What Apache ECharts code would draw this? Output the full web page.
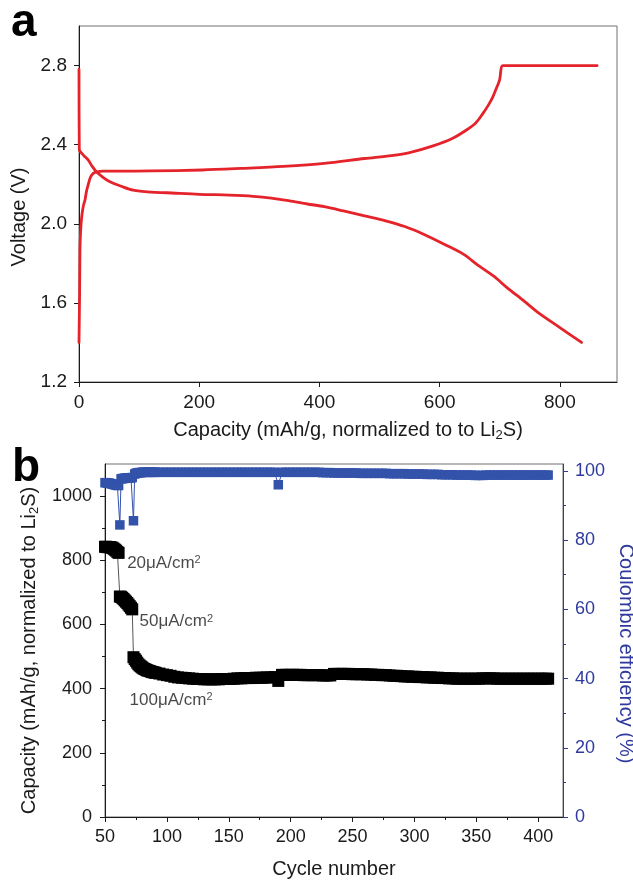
<!DOCTYPE html>
<html>
<head>
<meta charset="utf-8">
<script src="https://cdn.jsdelivr.net/npm/echarts@6/dist/echarts.min.js"></script>
<style>
html,body{margin:0;padding:0;background:#ffffff;}
#chart{width:633px;height:882px;}
</style>
</head>
<body>
<div id="chart"></div>
<script>
// ---------- Panel a: voltage profiles ----------
const chargeCap = [0, 1, 1.6, 2.5, 4, 6, 8, 10, 12.5, 15.5, 19, 23.6, 30, 40, 70, 120, 205, 270, 340, 408, 475, 520, 550, 589, 620, 644, 660, 672, 681, 688.5, 695, 699.6, 705, 720, 862];
const chargeV   = [1.40, 1.65, 1.87, 1.95, 2.02, 2.07, 2.10, 2.12, 2.165, 2.20, 2.235, 2.255, 2.263, 2.266, 2.266, 2.267, 2.272, 2.28, 2.29, 2.305, 2.33, 2.345, 2.36, 2.394, 2.43, 2.473, 2.51, 2.558, 2.60, 2.642, 2.69, 2.726, 2.80, 2.80, 2.80];

const dischargeCap = [0, 0.5, 8, 15.5, 22, 29, 40, 51.5, 70, 90, 120, 146, 200, 250, 290, 320, 350, 380, 408, 440, 475, 510, 542, 575, 610, 640, 664, 690, 711, 740, 765, 800, 836];
const dischargeV   = [2.78, 2.375, 2.345, 2.322, 2.29, 2.263, 2.235, 2.212, 2.19, 2.17, 2.16, 2.157, 2.149, 2.145, 2.139, 2.13, 2.116, 2.10, 2.087, 2.065, 2.04, 2.015, 1.986, 1.945, 1.893, 1.845, 1.79, 1.735, 1.68, 1.61, 1.548, 1.475, 1.40];

const voltageTicks  = [1.2, 1.6, 2.0, 2.4, 2.8];
const capacityTicks = [0, 200, 400, 600, 800];

// ---------- Panel b: cycling ----------
const cycles = [
  50,51,52,53,54,55,56,57,58,59,60,61,
  62,63,64,65,66,67,68,69,70,71,72,
  73,74,75,76,77,78,79,80,81,82,83,84,85,86,87,88,89,90,
  91,94,97,100,103,106,109,112,115,118,121,124,127,130,133,136,139,142,145,148,
  151,154,157,160,163,166,169,172,175,178,181,184,187,190,
  193,196,199,202,205,208,211,214,217,220,223,226,229,232,235,238,241,244,247,250,
  253,256,259,262,265,268,271,274,277,280,283,286,289,292,295,298,301,304,307,310,
  313,316,319,322,325,328,331,334,337,340,343,346,349,352,355,358,361,364,367,370,
  373,376,379,382,385,388,391,394,397,400,403,406,408
];
const capacityValues = [
  842,842,841,841,841,840,839,836,833,830,826,823,
  687,686,683,679,675,671,667,662,657,652,647,
  498,492,487,481,476,472,469,466,463,461,459,457,456,455,453,452,451,450,
  449,447,444,442,440,437,435,434,433,432,431,430,430,429,429,429,429,429,430,430,
  430,431,432,432,433,433,433,434,434,434,435,435,436,424,
  443,443,443,443,443,443,442,442,442,442,442,441,441,441,446,446,446,446,446,445,
  445,445,445,444,444,443,443,442,442,441,440,440,439,438,438,437,437,436,436,435,
  435,434,434,433,433,432,432,431,431,431,431,431,431,431,432,432,432,432,431,431,
  431,431,431,431,431,431,431,431,431,431,431,431,431
];
const efficiencyValues = [
  96.6,96.6,96.5,96.5,96.4,96.3,96.2,96.1,96.0,95.9,95.8,95.8,
  84.4,97.7,97.8,97.8,97.9,97.9,97.9,98.0,98.0,98.0,98.1,
  85.6,99.1,99.3,99.4,99.5,99.5,99.5,99.6,99.6,99.6,99.6,99.6,99.6,99.6,99.6,99.6,99.6,99.6,
  99.6,99.6,99.6,99.6,99.6,99.6,99.6,99.6,99.6,99.6,99.6,99.6,99.6,99.6,99.6,99.6,99.6,99.6,99.6,99.6,
  99.6,99.6,99.6,99.6,99.6,99.6,99.6,99.6,99.6,99.6,99.6,99.6,99.6,96.0,
  99.6,99.6,99.6,99.6,99.6,99.6,99.6,99.6,99.6,99.6,99.6,99.5,99.5,99.5,99.4,99.4,99.4,99.4,99.4,99.4,
  99.4,99.3,99.3,99.3,99.3,99.3,99.3,99.3,99.3,99.2,99.2,99.2,99.2,99.2,99.1,99.1,99.1,99.1,99.1,99.0,
  99.0,99.0,99.0,98.9,98.9,98.9,98.9,98.8,98.8,98.8,98.8,98.8,98.7,98.7,98.7,98.8,98.8,98.8,98.8,98.8,
  98.8,98.8,98.8,98.8,98.8,98.8,98.8,98.8,98.8,98.8,98.8,98.8,98.8
];
const cycleTicks      = [50, 100, 150, 200, 250, 300, 350, 400];
const capacityBTicks  = [0, 200, 400, 600, 800, 1000];
const efficiencyTicks = [0, 20, 40, 60, 80, 100];

const annotationCycles = [67.5, 77.5, 69.4];
const annotationValues = [792, 609, 364];
const annotationTexts  = ['20μA/cm{sup|2}', '50μA/cm{sup|2}', '100μA/cm{sup|2}'];

// ---------- styling ----------
const FONT = '"Liberation Sans", Arial, Helvetica, sans-serif';
const INK = '#1a1a1a';
const RED = '#e4232b';
const BLUE_AXIS = '#2f3a9e';
const BLUE_DATA = '#3352aa';
const BORDER = '#707070';

function pairs(xs, ys) { return xs.map((x, i) => [x, ys[i]]); }

const chart = echarts.init(document.getElementById('chart'), null, {renderer: 'canvas'});

const subRich = {sub: {fontSize: 13, verticalAlign: 'top', padding: [10, 0, 0, 0], fontFamily: FONT}};
const supRich = {sup: {fontSize: 11, verticalAlign: 'top', lineHeight: 8, fontFamily: FONT}};

function axisCommon(color, fontSize, margin, ticks, fmt) {
  return {
    axisLine: {show: true, onZero: false, lineStyle: {color: color, width: 1}},
    axisTick: {show: true, inside: false, length: 5, customValues: ticks, lineStyle: {color: color, width: 1}},
    axisLabel: {show: true, fontSize: fontSize, color: color, margin: margin, fontFamily: FONT, customValues: ticks, formatter: fmt},
    splitLine: {show: false}
  };
}

const option = {
  animation: false,
  backgroundColor: '#ffffff',
  textStyle: {fontFamily: FONT},
  graphic: [
    {type: 'text', style: {text: 'a', x: 11, y: 46, font: 'bold 46px ' + FONT, fill: '#000', verticalAlign: 'bottom', align: 'left'}},
    {type: 'text', style: {text: 'b', x: 12, y: 491, font: 'bold 46px ' + FONT, fill: '#000', verticalAlign: 'bottom', align: 'left'}}
  ],
  grid: [
    {left: 79, top: 26, width: 538, height: 356, show: true, borderColor: BORDER, borderWidth: 1, outerBoundsMode: 'none', containLabel: false},
    {left: 105, top: 464, width: 458, height: 353, show: true, borderColor: BORDER, borderWidth: 1, outerBoundsMode: 'none', containLabel: false}
  ],
  xAxis: [
    Object.assign({
      gridIndex: 0, type: 'value', min: 0, max: 895, interval: 200, position: 'bottom',
      name: 'Capacity (mAh/g, normalized to to Li{sub|2}S)', nameLocation: 'middle', nameGap: 37,
      nameTextStyle: {fontSize: 20, color: INK, fontFamily: FONT, rich: subRich}
    }, axisCommon(INK, 19, 11, capacityTicks, v => String(v))),
    Object.assign({
      gridIndex: 1, type: 'value', min: 50, max: 420, interval: 50, position: 'bottom',
      name: 'Cycle number', nameLocation: 'middle', nameGap: 42,
      nameTextStyle: {fontSize: 20, color: INK, fontFamily: FONT},
      minorTick: {show: true, splitNumber: 2, length: 3, lineStyle: {color: INK, width: 1}}
    }, axisCommon(INK, 18, 11, cycleTicks, v => String(v)))
  ],
  yAxis: [
    Object.assign({
      gridIndex: 0, type: 'value', min: 1.2, max: 3.0, interval: 0.4, position: 'left',
      name: 'Voltage (V)', nameLocation: 'middle', nameGap: 48,
      nameTextStyle: {fontSize: 20, color: INK, fontFamily: FONT, padding: [0, 26, 0, 0]}
    }, axisCommon(INK, 19, 12, voltageTicks, v => Number(v).toFixed(1))),
    Object.assign({
      gridIndex: 1, type: 'value', min: 0, max: 1100, interval: 200, position: 'left',
      name: 'Capacity (mAh/g, normalized to Li{sub|2}S)', nameLocation: 'middle', nameGap: 62,
      nameTextStyle: {fontSize: 20, color: INK, fontFamily: FONT, padding: [0, 20, 0, 0], rich: subRich},
      minorTick: {show: true, splitNumber: 2, length: 3, lineStyle: {color: INK, width: 1}}
    }, axisCommon(INK, 18, 13, capacityBTicks, v => String(v))),
    Object.assign({
      gridIndex: 1, type: 'value', min: 0, max: 102, interval: 20, position: 'right',
      name: 'Coulombic efficiency (%)', nameLocation: 'middle', nameGap: 49, nameRotate: -90,
      nameTextStyle: {fontSize: 20, color: BLUE_AXIS, fontFamily: FONT, padding: [0, 0, 0, 26]},
      minorTick: {show: true, splitNumber: 2, length: 3, lineStyle: {color: BLUE_AXIS, width: 1}}
    }, axisCommon(BLUE_AXIS, 18, 12, efficiencyTicks, v => String(v)))
  ],
  series: [
    {
      name: 'charge', type: 'line', xAxisIndex: 0, yAxisIndex: 0,
      data: pairs(chargeCap, chargeV), showSymbol: false, symbol: 'none',
      lineStyle: {color: RED, width: 2.8, cap: 'round', join: 'round'}, smooth: 0.3, z: 3
    },
    {
      name: 'discharge', type: 'line', xAxisIndex: 0, yAxisIndex: 0,
      data: pairs(dischargeCap, dischargeV), showSymbol: false, symbol: 'none',
      lineStyle: {color: RED, width: 2.8, cap: 'round', join: 'round'}, smooth: 0.3, z: 3
    },
    {
      name: 'capacity', type: 'line', xAxisIndex: 1, yAxisIndex: 1,
      data: pairs(cycles, capacityValues), symbol: 'rect', symbolSize: 12, showAllSymbol: true,
      itemStyle: {color: '#000000'}, lineStyle: {color: '#555555', width: 1}, z: 3
    },
    {
      name: 'efficiency', type: 'line', xAxisIndex: 1, yAxisIndex: 2,
      data: pairs(cycles, efficiencyValues), symbol: 'rect', symbolSize: 9.5, showAllSymbol: true,
      itemStyle: {color: BLUE_DATA}, lineStyle: {color: BLUE_DATA, width: 1}, z: 3
    },
    {
      name: 'labels', type: 'scatter', xAxisIndex: 1, yAxisIndex: 1,
      data: pairs(annotationCycles, annotationValues), symbolSize: 1,
      itemStyle: {color: 'rgba(0,0,0,0)'}, silent: true, z: 5,
      label: {
        show: true, position: 'right', distance: 0, fontSize: 17, color: INK, fontFamily: FONT,
        formatter: p => annotationTexts[p.dataIndex], rich: supRich
      }
    }
  ]
};

chart.setOption(option);
</script>
</body>
</html>
